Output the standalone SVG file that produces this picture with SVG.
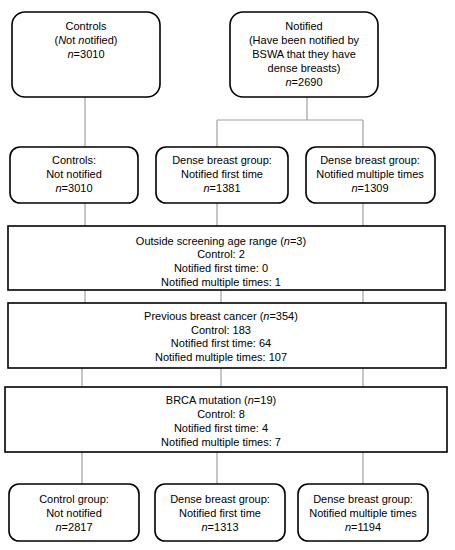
<svg xmlns="http://www.w3.org/2000/svg" width="455" height="550" viewBox="0 0 455 550">
<style>
.box{fill:#fff;stroke:#000;stroke-width:1.6}
.con{stroke:#a0a0a0;stroke-width:1.2;fill:none}
text{font-family:"Liberation Sans",Arial,sans-serif;font-size:11px;fill:#000;text-anchor:middle}
</style>
<rect width="455" height="550" fill="#fff"/>
<g id="connectors">
<path class="con" d="M85 97V147M307 97V120M217 120H363M217 120V147M363 120V147"/>
<path class="con" d="M85 203V226M217 203V226M363 203V226"/>
<path class="con" d="M85 290V303M221 290V303M363 290V303"/>
<path class="con" d="M82 368V387M221 368V387M363 368V387"/>
<path class="con" d="M82 452V484M217 452V484M363 452V484"/>
</g>
<g id="controls">
<rect class="box" x="12" y="12" width="148" height="85" rx="13"/>
<text x="86" y="30">Controls</text>
<text x="86" y="44">(<tspan font-style="italic">N</tspan>ot <tspan font-style="italic">n</tspan>otified)</text>
<text x="86" y="58"><tspan font-style="italic">n</tspan>=3010</text>
</g>
<g id="notified">
<rect class="box" x="230" y="12" width="148" height="85" rx="13"/>
<text x="304" y="30">Notified</text>
<text x="304" y="44">(Have been notified by</text>
<text x="304" y="58">BSWA that they have</text>
<text x="304" y="72">dense breasts)</text>
<text x="304" y="86"><tspan font-style="italic">n</tspan>=2690</text>
</g>
<g id="controls2">
<rect class="box" x="10" y="147" width="128" height="56" rx="10"/>
<text x="74" y="164">Controls:</text>
<text x="74" y="178">Not notified</text>
<text x="74" y="192"><tspan font-style="italic">n</tspan>=3010</text>
</g>
<g id="first">
<rect class="box" x="156" y="147" width="132" height="56" rx="10"/>
<text x="222" y="164">Dense breast group:</text>
<text x="222" y="178">Notified first time</text>
<text x="222" y="192"><tspan font-style="italic">n</tspan>=1381</text>
</g>
<g id="multiple">
<rect class="box" x="306" y="147" width="129" height="56" rx="10"/>
<text x="370" y="164">Dense breast group:</text>
<text x="370" y="178">Notified multiple times</text>
<text x="370" y="192"><tspan font-style="italic">n</tspan>=1309</text>
</g>
<g id="age">
<rect class="box" x="8" y="226" width="437" height="64"/>
<text x="221" y="245">Outside screening age range (<tspan font-style="italic">n</tspan>=3)</text>
<text x="221" y="258">Control: 2</text>
<text x="221" y="272">Notified first time: 0</text>
<text x="221" y="286">Notified multiple times: 1</text>
</g>
<g id="cancer">
<rect class="box" x="8" y="303" width="438" height="65"/>
<text x="221" y="320">Previous breast cancer (<tspan font-style="italic">n</tspan>=354)</text>
<text x="221" y="334">Control: 183</text>
<text x="221" y="347">Notified first time: 64</text>
<text x="221" y="361">Notified multiple times: 107</text>
</g>
<g id="brca">
<rect class="box" x="5" y="387" width="442" height="65"/>
<text x="221" y="404">BRCA mutation (<tspan font-style="italic">n</tspan>=19)</text>
<text x="221" y="418">Control: 8</text>
<text x="221" y="432">Notified first time: 4</text>
<text x="221" y="446">Notified multiple times: 7</text>
</g>
<g id="controlgroup">
<rect class="box" x="9" y="484" width="130" height="57" rx="10"/>
<text x="74" y="503">Control group:</text>
<text x="74" y="517">Not notified</text>
<text x="74" y="531"><tspan font-style="italic">n</tspan>=2817</text>
</g>
<g id="first2">
<rect class="box" x="155" y="484" width="130" height="57" rx="10"/>
<text x="220" y="503">Dense breast group:</text>
<text x="220" y="517">Notified first time</text>
<text x="220" y="531"><tspan font-style="italic">n</tspan>=1313</text>
</g>
<g id="multiple2">
<rect class="box" x="298" y="484" width="130" height="57" rx="10"/>
<text x="363" y="503">Dense breast group:</text>
<text x="363" y="517">Notified multiple times</text>
<text x="363" y="531"><tspan font-style="italic">n</tspan>=1194</text>
</g>
</svg>
